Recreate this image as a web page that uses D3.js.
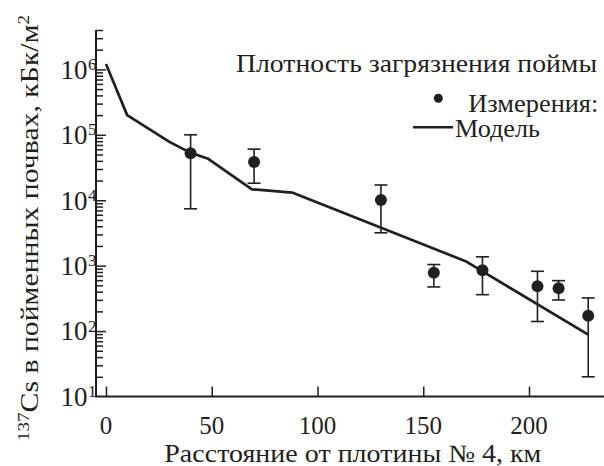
<!DOCTYPE html>
<html><head><meta charset="utf-8">
<script src="https://cdn.jsdelivr.net/npm/d3@7"></script>
<style>body{margin:0;background:#fff}svg text{font-family:"Liberation Serif","Times New Roman",serif;fill:#231f20}</style>
</head><body><svg id="c" width="604" height="466"></svg>
<script>
const xTicks = [0, 50, 100, 150, 200];
const yMajor = [1e1, 1e2, 1e3, 1e4, 1e5, 1e6];
const yExp = [1, 2, 3, 4, 5, 6];
const modelKm = [0, 10, 30, 40, 48, 69, 88, 170, 228];
const modelVal = [1.21e6, 2.0e5, 7.8e4, 5.3e4, 4.35e4, 1.47e4, 1.31e4, 1170, 88];
const measKm = [40, 70, 130, 155, 178, 204, 214, 228];
const measVal = [5.24e4, 3.85e4, 1.01e4, 776, 850, 483, 450, 172];
const measLo = [7.4e3, 1.82e4, 3.18e3, 473, 360, 140, 299, 20];
const measHi = [1.0e5, 6.04e4, 1.71e4, 1040, 1365, 820, 590, 321];

const svg = d3.select("#c");
const x = d3.scaleLinear().domain([0, 200]).range([106, 529]);
const y = d3.scaleLog().domain([10, 4e6]).range([396.5, 30]);
const ink = "#231f20";

// axes lines
svg.append("line").attr("x1", 96).attr("x2", 96).attr("y1", 30).attr("y2", 396.5).attr("stroke", ink).attr("stroke-width", 2);
svg.append("line").attr("x1", 95).attr("x2", 604).attr("y1", 396.5).attr("y2", 396.5).attr("stroke", ink).attr("stroke-width", 2);

// x axis ticks (inward)
const gx = svg.append("g").attr("transform", "translate(0,396.5)")
  .call(d3.axisTop(x).tickValues(xTicks).tickSize(10).tickFormat(""));
gx.select(".domain").remove();
gx.selectAll("line").attr("stroke", ink).attr("stroke-width", 1.5);
svg.selectAll(".xl").data(xTicks).enter().append("text")
  .attr("x", d => x(d)).attr("y", 434).attr("text-anchor", "middle")
  .attr("font-size", 25).text(d => d);

// y axis ticks (inward)
const minor = [];
for (let e = 1; e <= 6; e++) for (let m = 2; m <= 9; m++) { const v = m * Math.pow(10, e); if (v <= 4e6) minor.push(v); }
const gyMin = svg.append("g").attr("transform", "translate(96,0)")
  .call(d3.axisRight(y).tickValues(minor).tickSize(7).tickFormat(""));
gyMin.select(".domain").remove();
gyMin.selectAll("line").attr("stroke", ink).attr("stroke-width", 1.5);
const gyMaj = svg.append("g").attr("transform", "translate(96,0)")
  .call(d3.axisRight(y).tickValues(yMajor.slice(1)).tickSize(10).tickFormat(""));
gyMaj.select(".domain").remove();
gyMaj.selectAll("line").attr("stroke", ink).attr("stroke-width", 1.5);

const yl = svg.selectAll(".yl").data(yMajor).enter().append("g");
yl.append("text").attr("x", 87.5).attr("y", d => y(d) + 9.3).attr("text-anchor", "end")
  .attr("font-size", 27).text("10");
yl.append("text").attr("x", 88).attr("y", d => y(d) + 0.5).attr("font-size", 17).text((d, i) => yExp[i]);

// model line
const line = d3.line().x(d => x(d[0])).y(d => y(d[1]));
svg.append("path").datum(modelKm.map((k, i) => [k, modelVal[i]]))
  .attr("d", line).attr("fill", "none").attr("stroke", ink).attr("stroke-width", 2.7).attr("stroke-linejoin", "round");

// error bars
const eb = svg.selectAll(".eb").data(measKm).enter().append("g");
eb.append("line").attr("x1", d => x(d)).attr("x2", d => x(d))
  .attr("y1", (d, i) => y(measLo[i])).attr("y2", (d, i) => y(measHi[i])).attr("stroke", ink).attr("stroke-width", 1.6);
eb.append("line").attr("x1", d => x(d) - 6.5).attr("x2", d => x(d) + 6.5)
  .attr("y1", (d, i) => y(measLo[i])).attr("y2", (d, i) => y(measLo[i])).attr("stroke", ink).attr("stroke-width", 1.6);
eb.append("line").attr("x1", d => x(d) - 6.5).attr("x2", d => x(d) + 6.5)
  .attr("y1", (d, i) => y(measHi[i])).attr("y2", (d, i) => y(measHi[i])).attr("stroke", ink).attr("stroke-width", 1.6);
eb.append("circle").attr("cx", d => x(d)).attr("cy", (d, i) => y(measVal[i])).attr("r", 6).attr("fill", ink);

// legend
svg.append("text").attr("x", 236).attr("y", 71.7).attr("font-size", 25)
  .attr("textLength", 361).attr("lengthAdjust", "spacingAndGlyphs").text("Плотность загрязнения поймы");
svg.append("circle").attr("cx", 438.3).attr("cy", 98.3).attr("r", 4.5).attr("fill", ink);
svg.append("text").attr("x", 468.3).attr("y", 111.7).attr("font-size", 25)
  .attr("textLength", 130).attr("lengthAdjust", "spacingAndGlyphs").text("Измерения:");
svg.append("line").attr("x1", 413).attr("x2", 453).attr("y1", 127.3).attr("y2", 127.3).attr("stroke", ink).attr("stroke-width", 2.5);
svg.append("text").attr("x", 455).attr("y", 136.7).attr("font-size", 25)
  .attr("textLength", 85).attr("lengthAdjust", "spacingAndGlyphs").text("Модель");

// axis titles
svg.append("text").attr("x", 164.3).attr("y", 462).attr("font-size", 25)
  .attr("textLength", 377).attr("lengthAdjust", "spacingAndGlyphs").text("Расстояние от плотины № 4, км");
const yt = svg.append("text").attr("transform", "translate(38,441) rotate(-90)").attr("font-size", 25)
  .attr("textLength", 426).attr("lengthAdjust", "spacingAndGlyphs");
yt.append("tspan").attr("font-size", 16).attr("dy", -9).text("137");
yt.append("tspan").attr("dy", 9).text("Cs в пойменных почвах, кБк/м");
yt.append("tspan").attr("font-size", 16).attr("dy", -9).text("2");
</script></body></html>
